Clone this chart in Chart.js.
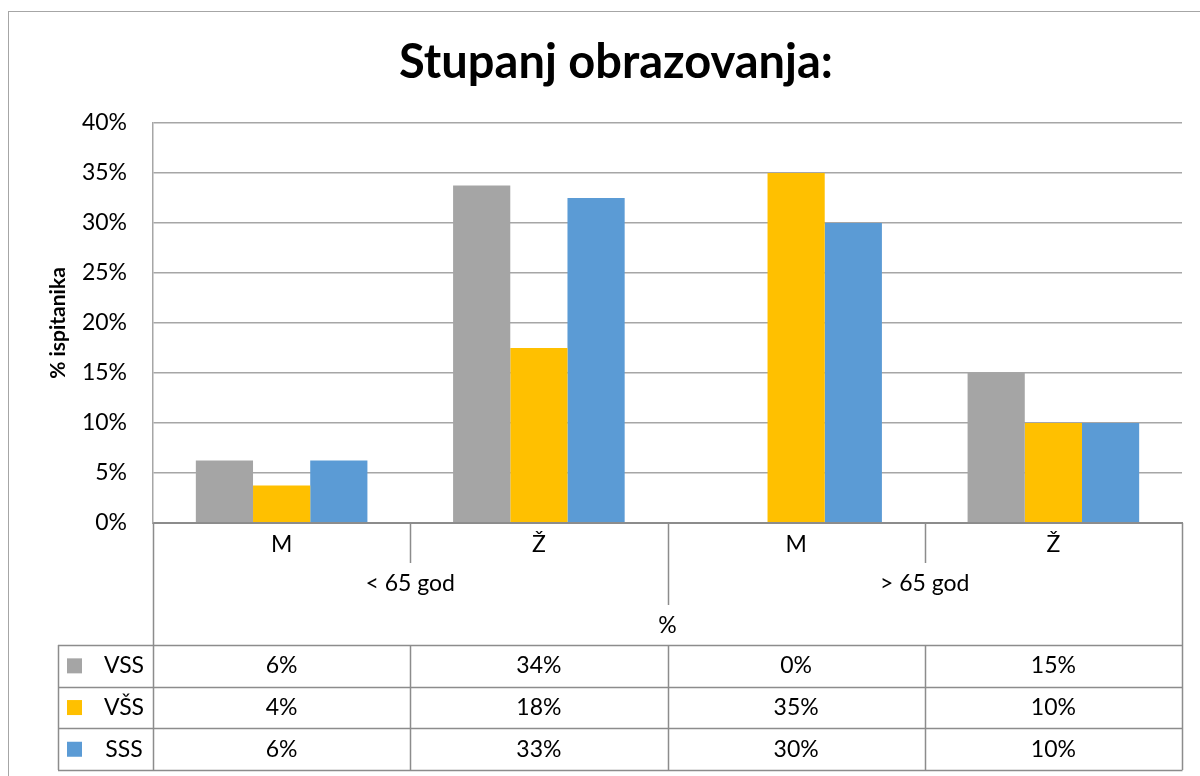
<!DOCTYPE html>
<html>
<head>
<meta charset="utf-8">
<script src="https://cdn.jsdelivr.net/npm/chart.js@4/dist/chart.umd.min.js"></script>
<style>
  html, body { margin: 0; padding: 0; background: #fff; overflow: hidden; }
  canvas { display: block; }
</style>
</head>
<body>
<canvas id="eduChart" width="1232" height="776"></canvas>
<script>
// data
const categories = ["M", "Ž", "M", "Ž"];
const groups = ["< 65 god", "> 65 god"];
const seriesNames = ["VSS", "VŠS", "SSS"];
const vss = [6.25, 33.75, 0, 15];
const vsz = [3.75, 17.5, 35, 10];
const sss = [6.25, 32.5, 30, 10];
const yMax = 40;
const yStep = 5;
const unitLabel = "%";

const colors = ["#a5a5a5", "#ffc000", "#5b9bd5"];
const lineGray = "#a6a6a6";
const axisGray = "#8c8c8c";
const FONT = "Lato";

// rows under the plot
const LAY = { catY: 545, groupY: 584, unitY: 626, tableTop: 645, rowH: 41.7, legendLeft: 58 };

const tablePlugin = {
  id: "tablePlugin",
  afterDraw(chart) {
    const ctx = chart.ctx;
    const x = chart.scales.x;
    const y = chart.scales.y;
    const bottom = y.bottom;
    const tableBottom = LAY.tableTop + LAY.rowH * seriesNames.length;
    const edge = i => Math.round(x.getPixelForValue(i - 0.5)) + 0.5;

    ctx.save();
    // outer frame
    ctx.strokeStyle = lineGray;
    ctx.lineWidth = 1;
    ctx.strokeRect(8.5, 11.5, 1300, 900);

    ctx.strokeStyle = axisGray;
    ctx.lineWidth = 1.5;
    ctx.beginPath();
    for (let i = 0; i <= categories.length; i++) {
      const px = edge(i);
      if (i === 0 || i === categories.length) {
        ctx.moveTo(px, bottom); ctx.lineTo(px, tableBottom);
      } else if (i === 2) {
        ctx.moveTo(px, bottom); ctx.lineTo(px, LAY.unitY - 21);
        ctx.moveTo(px, LAY.tableTop); ctx.lineTo(px, tableBottom);
      } else {
        ctx.moveTo(px, bottom); ctx.lineTo(px, LAY.groupY - 21);
        ctx.moveTo(px, LAY.tableTop); ctx.lineTo(px, tableBottom);
      }
    }
    ctx.moveTo(LAY.legendLeft + 0.5, LAY.tableTop); ctx.lineTo(LAY.legendLeft + 0.5, tableBottom);
    for (let r = 0; r <= seriesNames.length; r++) {
      const py = Math.round(LAY.tableTop + r * LAY.rowH) + 0.5;
      ctx.moveTo(LAY.legendLeft, py); ctx.lineTo(edge(categories.length), py);
    }
    ctx.stroke();

    ctx.fillStyle = "#000";
    ctx.font = "23px " + FONT;
    ctx.textAlign = "center";
    ctx.textBaseline = "middle";
    categories.forEach((c, i) => ctx.fillText(c, x.getPixelForValue(i), LAY.catY));
    groups.forEach((g, k) => ctx.fillText(g, x.getPixelForValue(k * 2 + 0.5), LAY.groupY));
    ctx.fillText(unitLabel, (x.left + x.right) / 2, LAY.unitY);

    chart.data.datasets.forEach((ds, r) => {
      const cy = LAY.tableTop + (r + 0.5) * LAY.rowH;
      ctx.fillStyle = ds.backgroundColor;
      ctx.fillRect(67, cy - 7.5, 15, 15);
      ctx.fillStyle = "#000";
      ctx.fillText(ds.label, 124, cy);
      ds.data.forEach((v, i) => ctx.fillText(Math.round(v) + "%", x.getPixelForValue(i), cy));
    });
    ctx.restore();
  }
};

new Chart(document.getElementById("eduChart"), {
  type: "bar",
  data: {
    labels: categories,
    datasets: [vss, vsz, sss].map((d, i) => ({
      label: seriesNames[i],
      data: d,
      backgroundColor: colors[i],
      categoryPercentage: 0.667,
      barPercentage: 1.0
    }))
  },
  options: {
    responsive: false,
    animation: false,
    layout: { padding: { left: 50, right: 50, top: 0, bottom: 0 } },
    plugins: {
      legend: { display: false },
      tooltip: { enabled: false },
      title: {
        display: true,
        text: "Stupanj obrazovanja:",
        color: "#000",
        font: { family: FONT, size: 47, weight: "bold", lineHeight: 1.2 },
        padding: { top: 35, bottom: 31.6 }
      }
    },
    scales: {
      x: {
        ticks: { display: false },
        grid: { display: false },
        border: { display: true, color: axisGray, width: 2 },
        afterFit: s => { s.height = 253; }
      },
      y: {
        min: 0,
        max: yMax,
        ticks: {
          stepSize: yStep,
          padding: 26,
          color: "#000",
          font: { family: FONT, size: 23 },
          callback: v => v + "%"
        },
        grid: {
          drawTicks: false,
          color: c => c.tick.value === 0 ? axisGray : lineGray,
          lineWidth: c => c.tick.value === 0 ? 2 : 1.5
        },
        border: { display: true, color: lineGray, width: 1.5 },
        title: {
          display: true,
          text: "% ispitanika",
          color: "#000",
          font: { family: FONT, size: 21, weight: "bold", lineHeight: 1.2 },
          padding: { top: -4.6, bottom: 0 }
        },
        afterFit: s => { s.width = 103; }
      }
    }
  },
  plugins: [tablePlugin]
});
</script>
</body>
</html>
